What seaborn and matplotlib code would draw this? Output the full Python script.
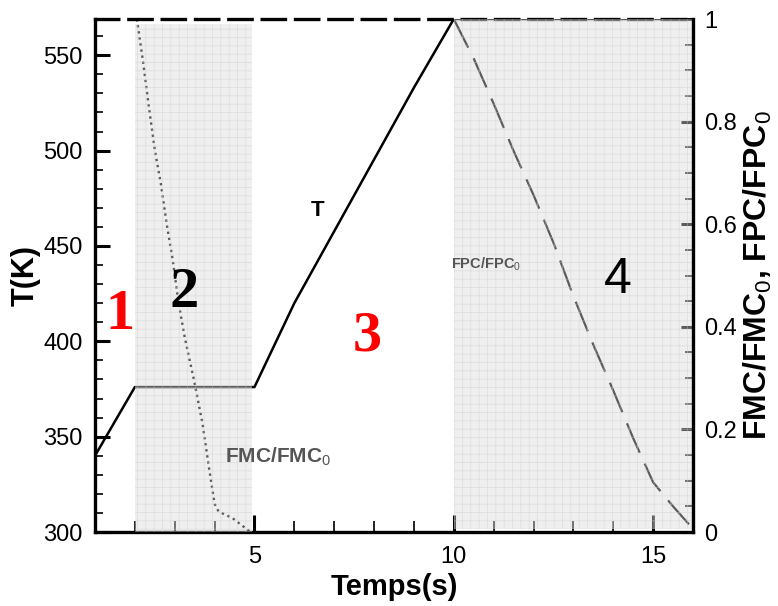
import matplotlib
matplotlib.use("Agg")
import matplotlib.pyplot as plt
import seaborn as sns
import pandas as pd
from matplotlib.ticker import MultipleLocator, FixedLocator, FixedFormatter

# ---------------- data ----------------
time_T = [1, 2, 5, 6, 9, 10, 16]
temp_K = [340, 376, 376, 420, 533, 569, 569]

time_fmc = [2.05, 2.2, 2.35, 2.5, 2.65, 2.8, 2.95, 3.1, 3.25, 3.5, 3.7, 3.85, 4.0, 4.1, 4.45, 4.9]
fmc_ratio = [1.0, 0.92, 0.83, 0.745, 0.68, 0.6, 0.53, 0.445, 0.38, 0.29, 0.21, 0.13, 0.055, 0.04, 0.027, 0.0]

time_fpc = [10, 10.5, 11, 11.5, 12, 12.5, 13, 13.5, 14, 14.5, 15, 15.5, 15.9]
fpc_ratio = [1.0, 0.923, 0.835, 0.743, 0.657, 0.564, 0.46, 0.365, 0.276, 0.183, 0.097, 0.05, 0.015]

zone2 = (2.0, 4.93)
zone4 = (10.0, 16.0)

left_ticks = [300, 350, 400, 450, 500, 550]
right_ticks = [0, 0.2, 0.4, 0.6, 0.8, 1.0]
right_tick_labels = ["0", "0.2", "0.4", "0.6", "0.8", "1"]
x_ticks = [5, 10, 15]

# ---------------- style ----------------
sns.set_style("ticks")
plt.rcParams["font.family"] = ["Liberation Sans", "DejaVu Sans"]
plt.rcParams["mathtext.fontset"] = "custom"
plt.rcParams["mathtext.rm"] = "Liberation Sans"
plt.rcParams["mathtext.bf"] = "Liberation Sans:bold"
plt.rcParams["hatch.linewidth"] = 0.6
for k in ["text.color", "axes.labelcolor", "xtick.color", "ytick.color",
          "xtick.labelcolor", "ytick.labelcolor"]:
    plt.rcParams[k] = "black"

fig = plt.figure(figsize=(7.78, 6.06), dpi=100)
ax = fig.add_axes([0.1221, 0.1221, 0.7686, 0.8465])
ax2 = ax.twinx()

df_T = pd.DataFrame({"t": time_T, "T": temp_K})
df_fmc = pd.DataFrame({"t": time_fmc, "r": fmc_ratio})
df_fpc = pd.DataFrame({"t": time_fpc, "r": fpc_ratio})

sns.lineplot(data=df_T, x="t", y="T", ax=ax, color="black", linewidth=1.8,
             legend=False, errorbar=None)
sns.lineplot(data=df_fmc, x="t", y="r", ax=ax2, color="#000000", linewidth=1.7,
             linestyle=(0, (1, 1.6)), legend=False, errorbar=None)
sns.lineplot(data=df_fpc, x="t", y="r", ax=ax2, color="#000000", linewidth=1.6,
             linestyle=(0, (14.4, 5.4)), legend=False, errorbar=None)

ax.set_xlim(1, 16)
ax.set_ylim(300, 569)
ax2.set_ylim(0, 1)

# shaded zones (drawn above the curves, semi transparent)
for (x0, x1), (y0, y1) in [(zone2, (0.0, 0.99)), (zone4, (0.006, 1.0))]:
    ax2.axvspan(x0, x1, ymin=y0, ymax=y1, facecolor=(0.86, 0.86, 0.86, 0.42),
                edgecolor="none", linewidth=0, zorder=3)
    ax2.axvspan(x0, x1, ymin=y0, ymax=y1, facecolor="none",
                edgecolor=(0.80, 0.80, 0.80, 0.45), hatch="++", linewidth=0, zorder=3)

# spines
for s in ["left", "bottom", "top"]:
    ax.spines[s].set_linewidth(2.4)
    ax.spines[s].set_color("black")
ax.spines["right"].set_visible(False)
ax.spines["top"].set_linestyle((0, (7, 3)))
for s in ["left", "bottom", "top"]:
    ax2.spines[s].set_visible(False)
ax2.spines["right"].set_linewidth(2.4)
ax2.spines["right"].set_color("black")
ax2.spines["right"].set_zorder(5)

# ticks
ax.xaxis.set_major_locator(FixedLocator(x_ticks))
ax.xaxis.set_minor_locator(MultipleLocator(1))
ax.yaxis.set_major_locator(FixedLocator(left_ticks))
ax.yaxis.set_minor_locator(MultipleLocator(10))
ax2.yaxis.set_major_locator(FixedLocator(right_ticks))
ax2.yaxis.set_major_formatter(FixedFormatter(right_tick_labels))
ax2.yaxis.set_minor_locator(MultipleLocator(0.05))

ax.tick_params(axis="x", which="major", direction="in", length=12, width=2.2,
               labelsize=17, pad=10, top=False)
ax.tick_params(axis="x", which="minor", direction="in", length=8, width=1.2, top=False)
ax.tick_params(axis="y", which="major", direction="in", length=11, width=2.2,
               labelsize=17, pad=9, right=False)
ax.tick_params(axis="y", which="minor", direction="in", length=6, width=1.2, right=False)
ax2.tick_params(axis="y", which="major", direction="in", length=9, width=2.2,
                labelsize=17, pad=8, left=False)
ax2.tick_params(axis="y", which="minor", direction="in", length=5.5, width=1.2, left=False)

ax.set_xlabel("Temps(s)", fontsize=21, fontweight="bold", labelpad=4)
ax.set_ylabel("T(K)", fontsize=22, fontweight="bold", labelpad=2)
ax2.set_ylabel(r"FMC/FMC$_\mathrm{0}$, FPC/FPC$_\mathrm{0}$", fontsize=23,
               fontweight="bold", labelpad=3)

# annotations
ax2.text(1.625, 0.423, "1", color="red", fontsize=42, fontweight="bold",
         family="Liberation Serif", ha="center", va="center", zorder=6)
ax2.text(3.225, 0.466, "2", color="black", fontsize=42, fontweight="bold",
         family="Liberation Serif", ha="center", va="center", zorder=6)
ax2.text(7.825, 0.382, "3", color="red", fontsize=42, fontweight="bold",
         family="Liberation Serif", ha="center", va="center", zorder=6)
ax2.text(14.125, 0.491, "4", color="black", fontsize=36,
         ha="center", va="center", zorder=6)
ax2.text(6.575, 0.626, "T", color="black", fontsize=16, fontweight="bold",
         ha="center", va="center", zorder=6)
ax2.text(4.25, 0.136, r"FMC/FMC$_\mathrm{0}$", color="#555555", fontsize=15,
         fontweight="bold", ha="left", va="baseline", zorder=6)
ax2.text(9.925, 0.515, r"FPC/FPC$_\mathrm{0}$", color="#555555", fontsize=10.5,
         fontweight="bold", ha="left", va="baseline", zorder=6)

fig.savefig("out.png", dpi=100)
